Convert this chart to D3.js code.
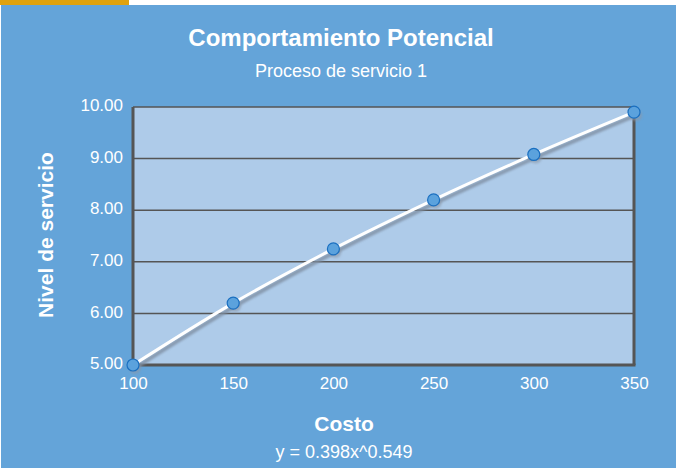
<!DOCTYPE html>
<html>
<head>
<meta charset="utf-8">
<script src="https://cdn.jsdelivr.net/npm/d3@7"></script>
<style>
  body { margin: 0; background: #fff; }
  text { font-family: "Liberation Sans", Arial, sans-serif; fill: #fff; }
</style>
</head>
<body>
<div id="chart"></div>
<script>
// Data
var costo = [100, 150, 200, 250, 300, 350];
var nivel = [5.0, 6.2, 7.25, 8.2, 9.08, 9.9];
var yTicks = [5, 6, 7, 8, 9, 10];
var xTicks = [100, 150, 200, 250, 300, 350];

var svgWidth = 676;
var svgHeight = 468;
var margin = { top: 107, right: 42, bottom: 103, left: 133 };
var width = svgWidth - margin.left - margin.right;
var height = svgHeight - margin.top - margin.bottom;

var svg = d3.select("#chart").append("svg")
    .attr("width", svgWidth)
    .attr("height", svgHeight);

// background + the little orange tab at the top
svg.append("rect").attr("x", 1).attr("y", 5).attr("width", svgWidth - 1).attr("height", svgHeight - 5)
    .attr("fill", "#64a4d9");
svg.append("rect").attr("x", 0).attr("y", 0).attr("width", 129).attr("height", 5)
    .attr("fill", "#e0a20e");

var defs = svg.append("defs");
defs.append("filter").attr("id", "shadow")
    .append("feGaussianBlur").attr("stdDeviation", 1.2);

svg.append("text").attr("x", 341).attr("y", 46)
    .attr("text-anchor", "middle").attr("font-size", 24).attr("font-weight", "bold")
    .text("Comportamiento Potencial");
svg.append("text").attr("x", 341).attr("y", 77)
    .attr("text-anchor", "middle").attr("font-size", 18)
    .text("Proceso de servicio 1");

var g = svg.append("g").attr("transform", `translate(${margin.left}, ${margin.top})`);

var x = d3.scaleLinear().domain([100, 350]).range([0, width]);
var y = d3.scaleLinear().domain([5, 10]).range([height, 0]);

g.append("rect").attr("width", width).attr("height", height).attr("fill", "#aecbe9");

// grid lines
g.selectAll(".grid").data(yTicks.slice(1, -1)).enter().append("line")
    .attr("x1", 0).attr("x2", width)
    .attr("y1", d => y(d)).attr("y2", d => y(d))
    .attr("stroke", "#555").attr("stroke-width", 1.5);

// frame
g.append("line").attr("x1", 0).attr("x2", width).attr("y1", 0).attr("y2", 0)
    .attr("stroke", "#555").attr("stroke-width", 1.5);
g.append("line").attr("x1", width).attr("x2", width).attr("y1", 0).attr("y2", height)
    .attr("stroke", "#555").attr("stroke-width", 3);
g.append("line").attr("x1", 0).attr("x2", 0).attr("y1", 0).attr("y2", height)
    .attr("stroke", "#555").attr("stroke-width", 3);
g.append("line").attr("x1", -1.5).attr("x2", width + 1.5).attr("y1", height).attr("y2", height)
    .attr("stroke", "#555").attr("stroke-width", 3);

// axes (labels only)
var leftAxis = d3.axisLeft(y).tickValues(yTicks).tickFormat(d3.format(".2f")).tickSize(0).tickPadding(10);
var bottomAxis = d3.axisBottom(x).tickValues(xTicks).tickSize(0).tickPadding(12);

var ya = g.append("g").call(leftAxis);
ya.select(".domain").remove();
ya.selectAll("text").attr("font-size", 17).attr("fill", "#fff").attr("dy", "0.22em")
    .attr("font-family", "Liberation Sans, Arial, sans-serif");

var xa = g.append("g").attr("transform", `translate(0, ${height})`).call(bottomAxis);
xa.select(".domain").remove();
xa.selectAll("text").attr("font-size", 17).attr("fill", "#fff")
    .attr("font-family", "Liberation Sans, Arial, sans-serif");

// trend line with a soft shadow
var pts = costo.map((c, i) => [c, nivel[i]]);
var line = d3.line().x(d => x(d[0])).y(d => y(d[1])).curve(d3.curveMonotoneX);

g.append("path").datum(pts).attr("d", line)
    .attr("transform", "translate(2,3)")
    .attr("fill", "none").attr("stroke", "#7f8fa3").attr("stroke-width", 4)
    .attr("opacity", 0.8).attr("filter", "url(#shadow)");
g.append("path").datum(pts).attr("d", line)
    .attr("fill", "none").attr("stroke", "#fff").attr("stroke-width", 3);

g.selectAll(".shadowpt").data(pts).enter().append("circle")
    .attr("cx", d => x(d[0]) + 2).attr("cy", d => y(d[1]) + 3).attr("r", 6)
    .attr("fill", "#8a97a8").attr("opacity", 0.6).attr("filter", "url(#shadow)");
g.selectAll(".pt").data(pts).enter().append("circle")
    .attr("cx", d => x(d[0])).attr("cy", d => y(d[1])).attr("r", 6)
    .attr("fill", "#5ba2dd").attr("stroke", "#1a6fc0").attr("stroke-width", 1.2);

// axis titles and equation
svg.append("text")
    .attr("transform", "translate(53, 235) rotate(-90)")
    .attr("text-anchor", "middle").attr("font-size", 21).attr("font-weight", "bold")
    .text("Nivel de servicio");
svg.append("text").attr("x", 344).attr("y", 431)
    .attr("text-anchor", "middle").attr("font-size", 21).attr("font-weight", "bold")
    .text("Costo");
svg.append("text").attr("x", 344).attr("y", 458)
    .attr("text-anchor", "middle").attr("font-size", 18)
    .text("y = 0.398x^0.549");
</script>
</body>
</html>
